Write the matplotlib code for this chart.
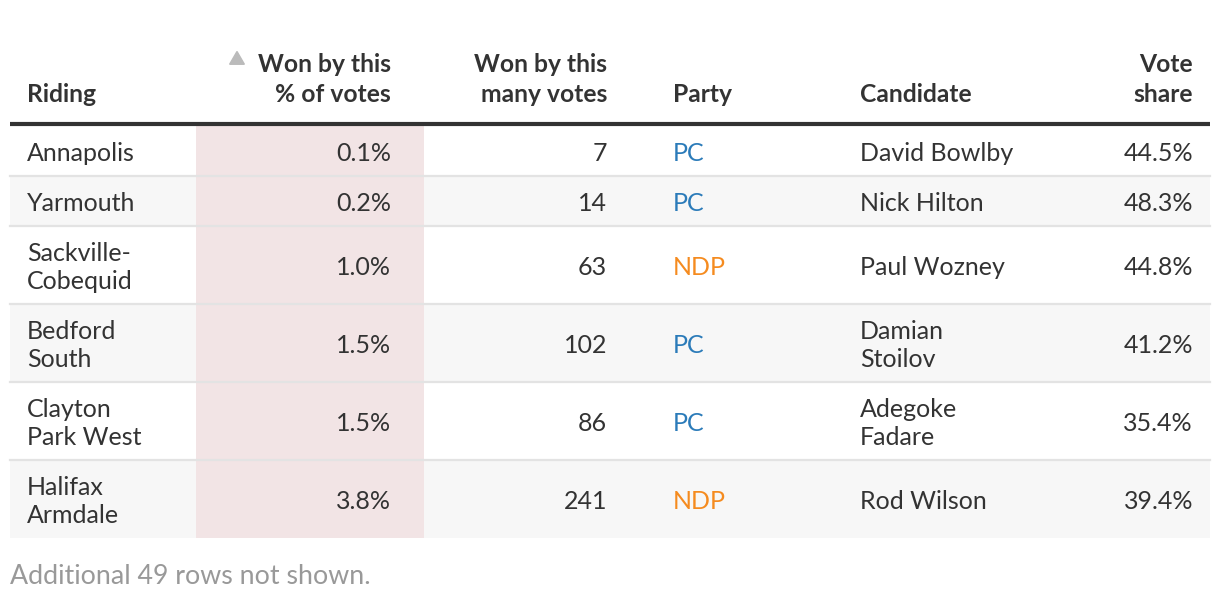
import numpy as np
import matplotlib.pyplot as plt
from matplotlib.patches import Rectangle, RegularPolygon

plt.rcParams['font.family'] = ['Lato', 'DejaVu Sans']

# data
ridings = ["Annapolis", "Yarmouth", "Sackville-\nCobequid", "Bedford\nSouth",
           "Clayton\nPark West", "Halifax\nArmdale"]
pct_margin = [0.1, 0.2, 1.0, 1.5, 1.5, 3.8]
vote_margin = [7, 14, 63, 102, 86, 241]
parties = ["PC", "PC", "NDP", "PC", "PC", "NDP"]
candidates = ["David Bowlby", "Nick Hilton", "Paul Wozney", "Damian\nStoilov",
              "Adegoke\nFadare", "Rod Wilson"]
vote_share = [44.5, 48.3, 44.8, 41.2, 35.4, 39.4]

party_colors = {"PC": "#2b7bb9", "NDP": "#f58b1f"}
text_col = "#333333"

fig = plt.figure(figsize=(12.2, 5.96), dpi=100)
ax = fig.add_axes([0, 0, 1, 1])
ax.set_xlim(0, 1220)
ax.set_ylim(596, 0)
ax.axis("off")

fs = 18
hfs = 17.7
dy = 2.5  # Lato sits a bit high with va=center

# header
hdr = dict(fontsize=hfs, fontweight="bold", color=text_col, va="center")
ax.text(27, 92 + dy, "Riding", ha="left", **hdr)
ax.text(391, 77 + dy, "Won by this\n% of votes", ha="right", linespacing=1.35, **hdr)
ax.text(607, 77 + dy, "Won by this\nmany votes", ha="right", linespacing=1.35, **hdr)
ax.text(673, 92 + dy, "Party", ha="left", **hdr)
ax.text(860, 92 + dy, "Candidate", ha="left", **hdr)
ax.text(1193, 77 + dy, "Vote\nshare", ha="right", linespacing=1.35, **hdr)
ax.add_patch(RegularPolygon((237, 60), 3, radius=8.5, orientation=np.pi,
                            color="#bbbbbb"))

# rows
top = 126
for i in range(len(ridings)):
    lines = max(ridings[i].count("\n"), candidates[i].count("\n")) + 1
    h = 50 if lines == 1 else 78
    if i % 2 == 1:
        ax.add_patch(Rectangle((10, top), 1200, h, color="#f7f7f7", lw=0, zorder=0))
    ax.add_patch(Rectangle((196, top), 228, h, color="#f2e4e5", lw=0, zorder=1))
    if i < len(ridings) - 1:
        ax.plot([10, 1210], [top + h, top + h], color="#e3e3e3", lw=1.6, zorder=2)
    yc = top + h / 2 + dy
    body = dict(fontsize=fs, color=text_col, va="center", linespacing=1.3, zorder=3)
    ax.text(27, yc, ridings[i], ha="left", **body)
    ax.text(391, yc, f"{pct_margin[i]:.1f}%", ha="right", **body)
    ax.text(607, yc, str(vote_margin[i]), ha="right", **body)
    ax.text(673, yc, parties[i], ha="left", fontsize=fs, va="center", zorder=3,
            color=party_colors[parties[i]])
    ax.text(860, yc, candidates[i], ha="left", **body)
    ax.text(1193, yc, f"{vote_share[i]:.1f}%", ha="right", **body)
    top += h

ax.plot([10, 1210], [124, 124], color="#333333", lw=3, zorder=4,
        solid_capstyle="butt")

ax.text(10, 574 + dy, "Additional 49 rows not shown.", fontsize=19.3,
        color="#999999", ha="left", va="center")

plt.savefig("out.png", dpi=100)
